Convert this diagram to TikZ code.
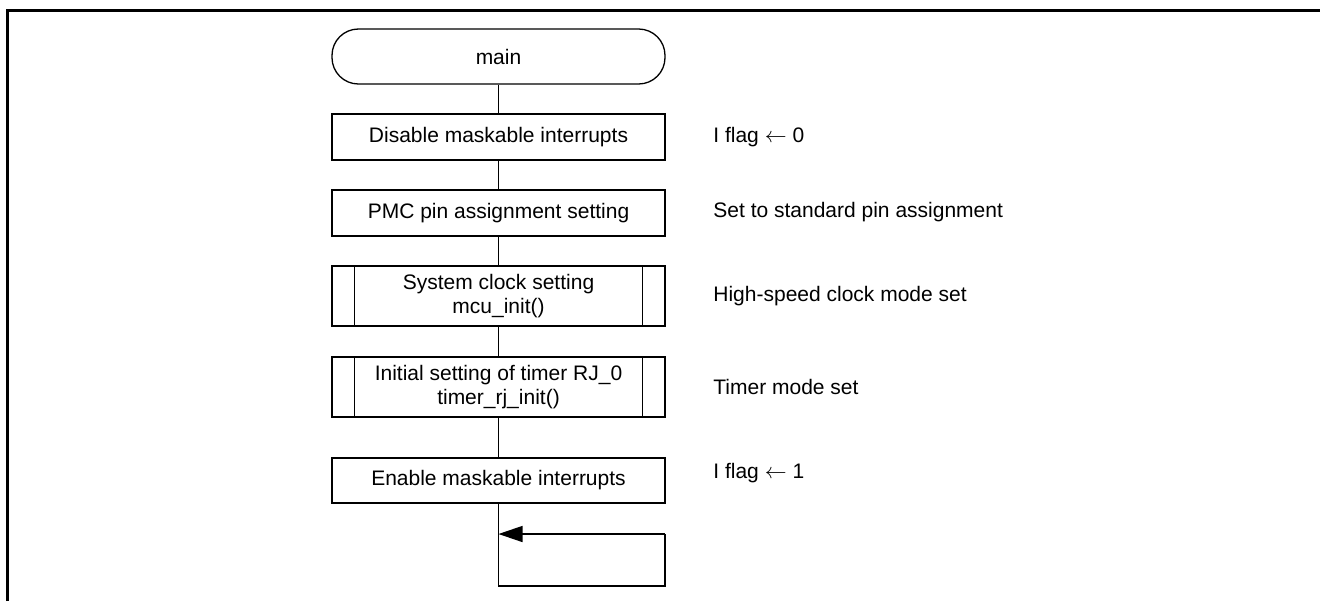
\documentclass[tikz,border=0pt]{standalone}
\usepackage{fontspec}
\setmainfont{Liberation Sans}
\usetikzlibrary{arrows.meta}
\begin{document}
\begin{tikzpicture}[x=0.5pt,y=-0.5pt,
  every node/.style={font=\fontsize{10.5pt}{12pt}\selectfont, inner sep=0pt, align=center},
  proc/.style={draw, line width=0.65pt, minimum width=166.5pt, minimum height=23pt},
  sub/.style={proc, minimum height=30pt},
  term/.style={draw, line width=0.65pt, minimum width=166.5pt, minimum height=27.5pt, rounded corners=13.2pt},
  note/.style={anchor=west},
  conn/.style={line width=0.65pt}
]
\useasboundingbox (0,0) rectangle (1320,601);
% frame
\draw[line width=1.5pt] (7.5,601) -- (7.5,10.5) -- (1320,10.5);

\node[term] (t) at (498.5,56.5) {main};
\node[proc] (b1) at (498.5,137) {Disable maskable interrupts};
\node[proc] (b2) at (498.5,213) {PMC pin assignment setting};
\node[sub]  (b3) at (498.5,296) {System clock setting\\mcu\_init()};
\node[sub]  (b4) at (498.5,387) {Initial setting of timer RJ\_0\\timer\_rj\_init()};
\node[proc, minimum height=22.5pt] (b5) at (498.5,480.5) {Enable maskable interrupts};

\foreach \b in {b3,b4}{
  \draw[conn] ([xshift=11.5pt]\b.north west) -- ([xshift=11.5pt]\b.south west);
  \draw[conn] ([xshift=-11.5pt]\b.north east) -- ([xshift=-11.5pt]\b.south east);
}

\node[note] (n1) at (713,137) {I flag \(\leftarrow\) 0};
\node[note] (n2) at (713,212) {Set to standard pin assignment};
\node[note] (n3) at (713,296) {High-speed clock mode set};
\node[note] (n4) at (713,387) {Timer mode set};
\node[note] (n5) at (713,473) {I flag \(\leftarrow\) 1};

\draw[conn] (t) -- (b1);
\draw[conn] (b1) -- (b2);
\draw[conn] (b2) -- (b3);
\draw[conn] (b3) -- (b4);
\draw[conn] (b4) -- (b5);

\coordinate (lb) at (498.5,586);
\coordinate (rb) at (665,586);
\coordinate (rt) at (665,534);
\coordinate (lt) at (498.5,534);
\draw[conn] (b5.south) -- (lb) -- (rb) -- (rt);
\draw[conn, -{Triangle[length=12pt,width=8pt]}] (rt) -- (lt);
\end{tikzpicture}
\end{document}
